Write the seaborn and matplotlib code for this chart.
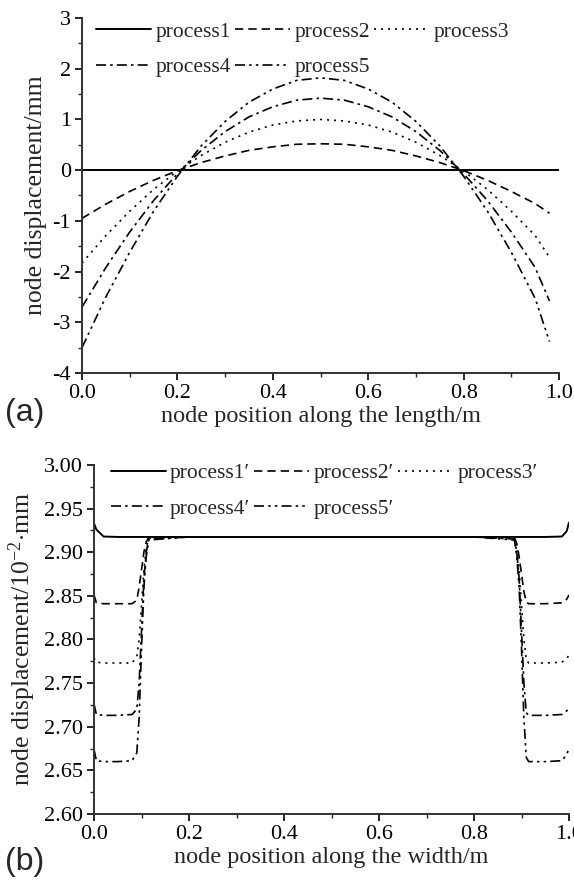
import numpy as np
import pandas as pd
import matplotlib
matplotlib.use("Agg")
import matplotlib.pyplot as plt
import seaborn as sns
from matplotlib.ticker import MultipleLocator, FormatStrFormatter

# ---------------- data ----------------
x_len = [0.0, 0.05, 0.10, 0.15, 0.20, 0.25, 0.30, 0.35, 0.40, 0.45, 0.50,
         0.55, 0.60, 0.65, 0.70, 0.75, 0.80, 0.85, 0.90, 0.95, 0.98]
x_len1 = [0.0, 0.25, 0.5, 0.75, 1.0]
p1 = [0.0, 0.0, 0.0, 0.0, 0.0]
p2 = [-0.95, -0.67, -0.42, -0.20, -0.01, 0.15, 0.28, 0.39, 0.46, 0.51, 0.52,
      0.51, 0.46, 0.39, 0.28, 0.15, -0.01, -0.20, -0.42, -0.66, -0.85]
p3 = [-1.83, -1.29, -0.81, -0.38, -0.02, 0.29, 0.55, 0.75, 0.89, 0.97, 1.00,
      0.97, 0.89, 0.75, 0.55, 0.29, -0.02, -0.38, -0.81, -1.29, -1.72]
p4 = [-2.70, -1.92, -1.22, -0.60, -0.07, 0.39, 0.76, 1.05, 1.25, 1.38, 1.42,
      1.38, 1.25, 1.05, 0.76, 0.39, -0.07, -0.60, -1.22, -1.92, -2.58]
p5 = [-3.50, -2.50, -1.62, -0.81, -0.12, 0.48, 0.96, 1.34, 1.60, 1.77, 1.82,
      1.77, 1.60, 1.34, 0.96, 0.48, -0.12, -0.81, -1.62, -2.53, -3.38]

x_wid = [0.0, 0.005, 0.02, 0.05, 0.08, 0.09, 0.095, 0.10, 0.105, 0.11, 0.115,
         0.2, 0.3, 0.4, 0.5, 0.6, 0.7, 0.8,
         0.885, 0.89, 0.895, 0.90, 0.905, 0.91, 0.915, 0.95, 0.985, 0.995, 1.0]
q1 = [2.933, 2.926, 2.918, 2.9175, 2.9175, 2.9175, 2.9175, 2.9175, 2.9175, 2.9175, 2.9175,
      2.9175, 2.9175, 2.9175, 2.9175, 2.9175, 2.9175, 2.9175,
      2.9175, 2.9175, 2.9175, 2.9175, 2.9175, 2.9175, 2.9175, 2.9175, 2.918, 2.924, 2.934]
q2 = [2.851, 2.842, 2.841, 2.841, 2.841, 2.845, 2.860, 2.880, 2.900, 2.912, 2.917,
      2.9175, 2.9175, 2.9175, 2.9175, 2.9175, 2.9175, 2.9175,
      2.917, 2.910, 2.895, 2.875, 2.855, 2.843, 2.841, 2.841, 2.842, 2.846, 2.851]
q3 = [2.779, 2.774, 2.773, 2.773, 2.773, 2.780, 2.800, 2.840, 2.880, 2.905, 2.916,
      2.9175, 2.9175, 2.9175, 2.9175, 2.9175, 2.9175, 2.9175,
      2.916, 2.905, 2.880, 2.840, 2.800, 2.777, 2.773, 2.773, 2.774, 2.778, 2.782]
q4 = [2.726, 2.714, 2.713, 2.713, 2.714, 2.720, 2.750, 2.810, 2.870, 2.900, 2.915,
      2.9175, 2.9175, 2.9175, 2.9175, 2.9175, 2.9175, 2.9175,
      2.915, 2.900, 2.870, 2.810, 2.750, 2.716, 2.713, 2.713, 2.714, 2.718, 2.722]
q5 = [2.674, 2.661, 2.660, 2.660, 2.661, 2.670, 2.710, 2.790, 2.860, 2.895, 2.914,
      2.9175, 2.9175, 2.9175, 2.9175, 2.9175, 2.9175, 2.9175,
      2.914, 2.895, 2.860, 2.790, 2.710, 2.665, 2.660, 2.660, 2.661, 2.668, 2.675]

labels_a = ["process1", "process2", "process3", "process4", "process5"]
labels_b = ["process1\u2032", "process2\u2032", "process3\u2032", "process4\u2032", "process5\u2032"]

# ---------------- style ----------------
sns.set_style("ticks")
plt.rcParams["font.family"] = ["Liberation Serif", "DejaVu Serif"]
plt.rcParams["mathtext.fontset"] = "custom"
plt.rcParams["mathtext.rm"] = "Liberation Serif"
plt.rcParams["mathtext.it"] = "Liberation Serif:italic"
plt.rcParams["axes.unicode_minus"] = False
plt.rcParams["axes.edgecolor"] = "#333333"
plt.rcParams["axes.linewidth"] = 1.4

styles = ["-", (0, (5, 3)), (0, (1.2, 3)), (0, (6, 2.5, 1.5, 2.5)),
          (0, (6, 2.5, 1.5, 2.5, 1.5, 2.5))]
widths = [1.4, 1.2, 1.2, 1.2, 1.2]

TICK_FS = 16
LEG_FS = 15.5
XLAB_FS = 17.5
YLAB_FS = 18.5

fig = plt.figure(figsize=(5.74, 8.83), dpi=100)
ax1 = fig.add_axes([0.1429, 0.5776, 0.8310, 0.4020])
ax2 = fig.add_axes([0.1638, 0.0782, 0.8275, 0.3952])

series_a = [(x_len1, p1), (x_len, p2), (x_len, p3), (x_len, p4), (x_len, p5)]
series_b = [(x_wid, q1), (x_wid, q2), (x_wid, q3), (x_wid, q4), (x_wid, q5)]


def draw(ax, series, labels, anchor):
    for (xs, ys), ls, lw, lab in zip(series, styles, widths, labels):
        sns.lineplot(x=xs, y=ys, ax=ax, color="black", linestyle=ls, lw=lw,
                     errorbar=None, legend=False, label=lab)
    h = ax.get_lines()[:5]
    order = [0, 3, 1, 4, 2]
    ax.legend([h[i] for i in order], [labels[i] for i in order], ncol=3,
              loc="upper left", bbox_to_anchor=anchor, frameon=False,
              fontsize=LEG_FS, handlelength=2.55, handletextpad=0.2,
              columnspacing=0.2, labelspacing=0.72, borderaxespad=0,
              borderpad=0)
    sns.despine(ax=ax)
    ax.tick_params(which="major", direction="out", length=5, width=1.2,
                   labelsize=TICK_FS, colors="black", pad=3)
    ax.tick_params(which="minor", direction="out", length=3, width=1.0)
    ax.xaxis.set_minor_locator(MultipleLocator(0.1))
    ax.xaxis.set_major_locator(MultipleLocator(0.2))
    ax.xaxis.set_major_formatter(FormatStrFormatter("%.1f"))
    ax.set_xlim(0, 1.0)


draw(ax1, series_a, labels_a, (0.03, 0.99))
ax1.set_ylim(-4, 3)
ax1.yaxis.set_major_locator(MultipleLocator(1))
ax1.yaxis.set_minor_locator(MultipleLocator(0.5))
ax1.set_xlabel("node position along the length/m", fontsize=XLAB_FS, labelpad=2)
ax1.set_ylabel("node displacement/mm", fontsize=YLAB_FS, labelpad=4)

draw(ax2, series_b, labels_b, (0.035, 1.005))
ax2.set_ylim(2.60, 3.00)
ax2.yaxis.set_major_locator(MultipleLocator(0.05))
ax2.yaxis.set_minor_locator(MultipleLocator(0.025))
ax2.yaxis.set_major_formatter(FormatStrFormatter("%.2f"))
ax2.set_xlabel("node position along the width/m", fontsize=XLAB_FS, labelpad=2)
ax2.set_ylabel(r"node displacement/10$^{-2}$$\cdot$mm", fontsize=YLAB_FS, labelpad=4)

fig.text(0.008, 1 - 421 / 883, "(a)", family="Liberation Sans", fontsize=23)
fig.text(0.008, 1 - 870 / 883, "(b)", family="Liberation Sans", fontsize=23)

fig.savefig("out.png", dpi=100)
